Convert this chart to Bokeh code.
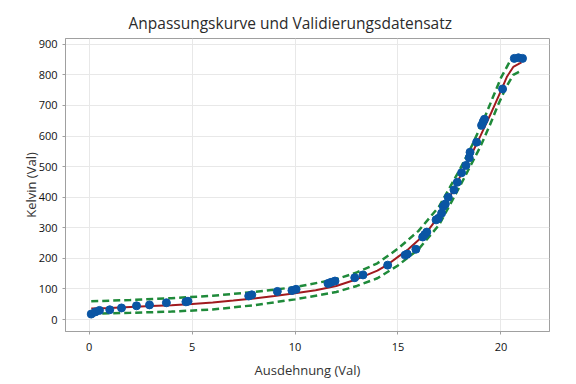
from bokeh.plotting import figure
from bokeh.models import Range1d, FixedTicker
from bokeh.embed import file_html
from bokeh.resources import INLINE

# Validation data (Ausdehnung, Kelvin)
data_x = [0.1, 0.3, 0.5, 1.0, 1.57, 2.3, 2.93, 3.75, 4.7, 4.8, 7.75, 7.9, 9.14, 9.85, 10.05,
          11.6, 11.75, 11.94, 12.9, 13.3, 14.5, 15.35, 15.45, 15.87, 16.2, 16.3, 16.4,
          16.85, 16.96, 17.12, 17.2, 17.3, 17.44, 17.72, 17.88, 18.09, 18.3, 18.46, 18.5,
          18.82, 19.06, 19.14, 19.2, 20.08, 20.65, 20.85, 21.05]
data_y = [18, 25, 30, 32, 38, 45, 48, 55, 58, 60, 77, 81, 92, 95, 99,
          118, 122, 126, 137, 146, 178, 211, 214, 230, 270, 278, 286,
          326, 331, 348, 370, 378, 400, 424, 449, 480, 504, 529, 547,
          580, 635, 647, 655, 754, 854, 856, 854]

# Fitted curve
fit_x = [0.1, 1, 2, 3, 4, 5, 6, 7, 8, 9, 10, 11, 12, 13, 14, 14.5, 15, 15.5, 16, 16.5,
         17, 17.5, 18, 18.5, 19, 19.5, 20, 20.3, 20.6, 21]
fit_y = [36, 38, 41, 44, 47, 51, 56, 62, 69, 77, 86, 96, 110, 132, 160, 180, 205, 230, 260, 295,
         340, 398, 465, 530, 600, 672, 748, 795, 826, 841]

# Upper and lower bands
upper_x = [0.1, 2, 4, 6, 8, 10, 12, 13, 14, 15, 16, 17, 18, 18.6, 19.2, 19.6, 20.0, 20.4, 20.85]
upper_y = [60, 64, 70, 78, 90, 106, 132, 154, 184, 232, 290, 370, 490, 570, 659, 725, 790, 840, 862]
lower_x = [0.1, 2, 4, 6, 8, 10, 12, 13, 14, 15, 16, 17, 18, 19, 19.47, 19.87, 20.28, 20.6, 20.95]
lower_y = [19, 22, 26, 33, 47, 66, 90, 110, 135, 177, 230, 310, 435, 565, 637, 703, 763, 800, 812]

x_ticks = [0, 5, 10, 15, 20]
y_ticks = [0, 100, 200, 300, 400, 500, 600, 700, 800, 900]

FONT = "Open Sans"

p = figure(width=576, height=384, output_backend="svg", toolbar_location=None,
           x_range=Range1d(-1.15, 22.36), y_range=Range1d(-39, 919),
           min_border_left=65, min_border_right=27, min_border_top=38, min_border_bottom=53)

p.title.text = "Anpassungskurve und Validierungsdatensatz"
p.title.align = "left"
p.title.offset = 63
p.title.text_font = FONT
p.title.text_font_size = "15.5px"
p.title.text_font_style = "normal"
p.title.text_color = "#2b2b2b"
p.title.standoff = 10

p.outline_line_color = "#a0a0a0"
p.outline_line_width = 1
p.background_fill_color = "white"
p.border_fill_color = "white"

p.xgrid.grid_line_color = "#e8e8e8"
p.ygrid.grid_line_color = "#e8e8e8"

p.xaxis.ticker = FixedTicker(ticks=x_ticks)
p.yaxis.ticker = FixedTicker(ticks=y_ticks)
for ax in (p.xaxis[0], p.yaxis[0]):
    ax.axis_line_color = "#a0a0a0"
    ax.major_tick_line_color = "#a0a0a0"
    ax.major_tick_out = 3
    ax.major_tick_in = 0
    ax.minor_tick_line_color = None
    ax.major_label_text_font = FONT
    ax.major_label_text_font_size = "11px"
    ax.major_label_text_color = "#111111"
    ax.axis_label_text_font = FONT
    ax.axis_label_text_font_size = "13px"
    ax.axis_label_text_font_style = "normal"
    ax.axis_label_text_color = "#333333"

p.xaxis.axis_label = "Ausdehnung (Val)"
p.yaxis.axis_label = "Kelvin (Val)"
p.xaxis.major_label_standoff = 8
p.yaxis.major_label_standoff = 5
p.xaxis.axis_label_standoff = 7
p.yaxis.axis_label_standoff = -4

green = "#1f8a3a"
red = "#a11a1f"
blue = "#0a55a4"

p.line(upper_x, upper_y, line_color=green, line_width=2.5, line_dash="7 4")
p.line(lower_x, lower_y, line_color=green, line_width=2.5, line_dash="7 4")
p.line(fit_x, fit_y, line_color=red, line_width=2)
p.scatter(data_x, data_y, size=8, fill_color=blue, line_color=blue)

open("out.html", "w").write(file_html(p, INLINE))
